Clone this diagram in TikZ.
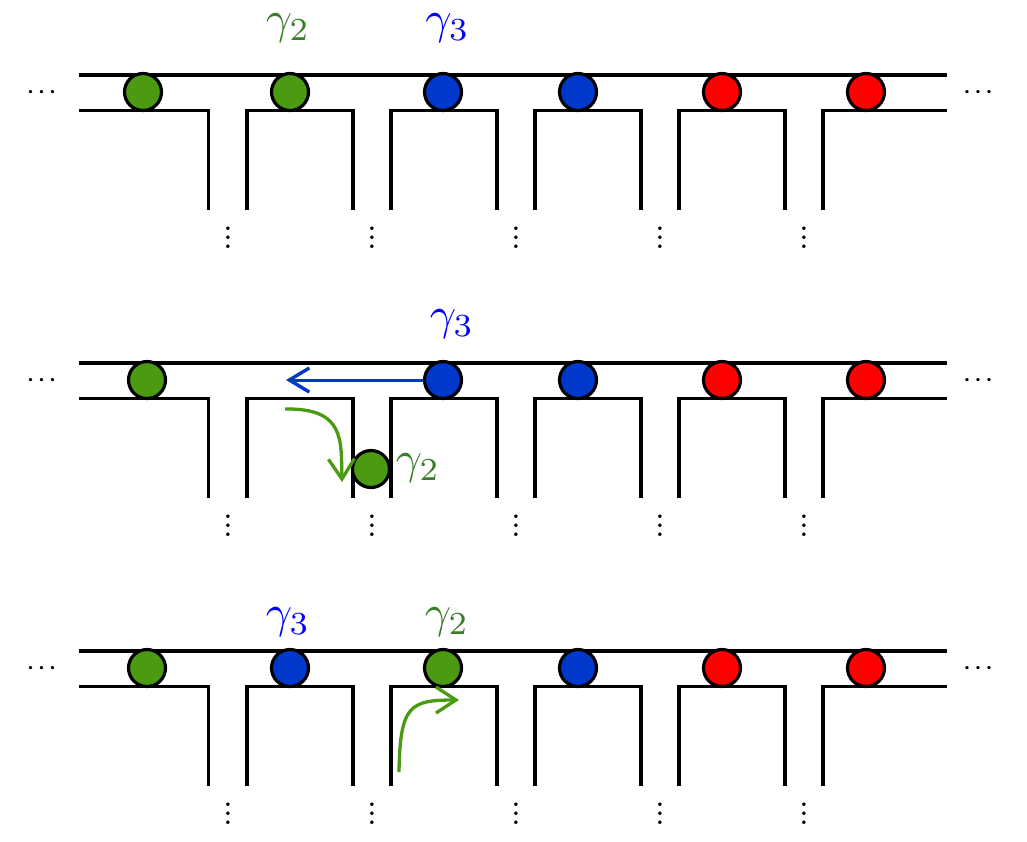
\documentclass[tikz,border=0pt]{standalone}
\usepackage{graphicx}
\usetikzlibrary{arrows.meta}
\definecolor{gfill}{RGB}{76,154,18}
\definecolor{glab}{RGB}{58,125,42}
\definecolor{bfill}{RGB}{0,56,204}
\definecolor{blab}{RGB}{0,0,255}
\definecolor{rfill}{RGB}{255,0,0}
\newcommand{\biglab}[1]{\scalebox{4.6}{$#1$}}
\begin{document}
\begin{tikzpicture}[x=1pt,y=-1pt,
  wall/.style={line width=3.3pt},
  ball/.style={circle,draw=black,line width=3.2pt,minimum size=37pt,inner sep=0pt},
  gball/.style={ball,fill=gfill},
  bball/.style={ball,fill=bfill},
  rball/.style={ball,fill=rfill},
  hdots/.style={scale=2.15,inner sep=0pt,font=\boldmath},
  vdotsn/.style={scale=2.25,inner sep=0pt,anchor=base,font=\bfseries},
  glabel/.style={text=glab,inner sep=0pt},
  blabel/.style={text=blab,inner sep=0pt},
  garrow/.style={draw=gfill,line width=3.3pt,-{Straight Barb[length=20pt,width=26pt,line width=3.3pt]}},
  barrow/.style={draw=bfill,line width=3pt,-{Straight Barb[length=20pt,width=24pt,line width=3.4pt]}}
]
\useasboundingbox (0,0) rectangle (1027,841);

% walls, dots for each panel
\foreach \T/\p in {75/a,363/b,651/c}{
  \pgfmathsetmacro{\B}{\T+35.5}
  \pgfmathsetmacro{\D}{\T+135}
  \pgfmathsetmacro{\M}{\T+17.5}
  \pgfmathsetmacro{\V}{\T+173}
  \draw[wall] (79,\T) -- (947,\T);
  \draw[wall] (79,\B) -- (208.7,\B) -- (208.7,\D);
  \foreach \k in {0,1,2,3}{
    \draw[wall] (247+144*\k,\D) -- (247+144*\k,\B) -- (353+144*\k,\B) -- (353+144*\k,\D);
  }
  \draw[wall] (823,\D) -- (823,\B) -- (947,\B);
  \node[hdots] (\p L) at (41.5,\M) {$\cdots$};
  \node[hdots] (\p R) at (978,\M) {$\cdots$};
  \foreach \k in {0,1,2,3,4}{
    \node[vdotsn] (\p v\k) at (228+144*\k,\V) {$\vdots$};
  }
}

% panel 1
\node[gball] (a1) at (143,92) {};
\node[gball] (a2) at (290,92) {};
\node[bball] (a3) at (443,92) {};
\node[bball] (a4) at (578,92) {};
\node[rball] (a5) at (722,92) {};
\node[rball] (a6) at (866,92) {};
\node[glabel] (ag) at (288,28) {\biglab{\gamma_2}};
\node[blabel] (ab) at (447.5,28) {\biglab{\gamma_3}};

% panel 2
\node[gball] (b1) at (147,380) {};
\node[gball] (b2) at (371,469) {};
\node[bball] (b3) at (443,380) {};
\node[bball] (b4) at (578,380) {};
\node[rball] (b5) at (722,380) {};
\node[rball] (b6) at (866,380) {};
\node[blabel] (bb) at (452,324.5) {\biglab{\gamma_3}};
\node[glabel] (bg) at (418,468) {\biglab{\gamma_2}};
\coordinate (btip) at (286,380);
\draw[barrow] (b3.west) -- (btip);
\coordinate (gs2) at (285,409);
\coordinate (gt2) at (342,482);
\draw[garrow] (gs2) .. controls (345,408) and (341,440) .. (gt2);

% panel 3
\node[gball] (c1) at (147,668) {};
\node[bball] (c2) at (290,668) {};
\node[gball] (c3) at (443,668) {};
\node[bball] (c4) at (578,668) {};
\node[rball] (c5) at (722,668) {};
\node[rball] (c6) at (866,668) {};
\node[blabel] (cb) at (288,622) {\biglab{\gamma_3}};
\node[glabel] (cg) at (447,622) {\biglab{\gamma_2}};
\coordinate (gs3) at (399,772);
\coordinate (gt3) at (459,700);
\draw[garrow] (gs3) .. controls (400,705) and (410,700) .. (gt3);
\end{tikzpicture}
\end{document}
